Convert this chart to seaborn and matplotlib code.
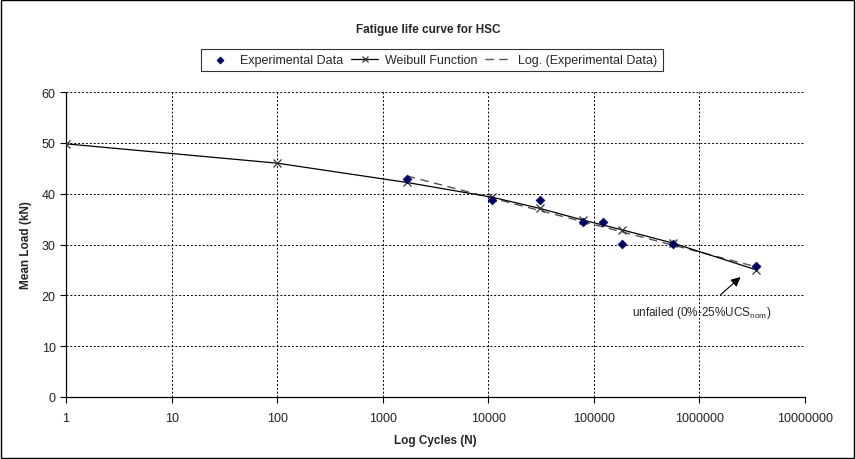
import numpy as np
import pandas as pd
import matplotlib
matplotlib.use("Agg")
import matplotlib.pyplot as plt
import seaborn as sns

# ---- data ----
exp_cycles = [1700, 10900, 30800, 79000, 122000, 184000, 556000, 3470000]
exp_load = [42.9, 38.8, 38.8, 34.4, 34.4, 30.1, 30.1, 25.7]

weib_cycles = [1, 100, 1700, 10900, 30800, 79000, 184000, 556000, 3470000]
weib_load = [49.8, 46.0, 42.2, 39.3, 37.1, 34.8, 32.9, 30.3, 25.0]

x_ticks = [1, 10, 100, 1000, 10000, 100000, 1000000, 10000000]
x_tick_labels = ["1", "10", "100", "1000", "10000", "100000", "1000000", "10000000"]
y_ticks = [0, 10, 20, 30, 40, 50, 60]

sns.set_theme(style="white")
plt.rcParams["font.family"] = ["Liberation Sans", "DejaVu Sans"]

fig = plt.figure(figsize=(8.56, 4.6), dpi=100)
ax = fig.add_axes([66/856, 1-398/460, (805-66)/856, (398-93)/460])

# log trendline (Excel-style logarithmic fit of experimental data)
a, b = np.polyfit(np.log(exp_cycles), exp_load, 1)
trend_x = np.array([min(exp_cycles), max(exp_cycles)])
trend_df = pd.DataFrame({"x": trend_x, "y": a*np.log(trend_x)+b})

exp_df = pd.DataFrame({"x": exp_cycles, "y": exp_load})
weib_df = pd.DataFrame({"x": weib_cycles, "y": weib_load})

sns.lineplot(data=trend_df, x="x", y="y", ax=ax, color="#555555", lw=1.0,
             linestyle=(0, (6, 4)), estimator=None, sort=False,
             label="Log. (Experimental Data)", zorder=2)
sns.lineplot(data=weib_df, x="x", y="y", ax=ax, color="black", lw=0.9,
             marker="x", markersize=6, markeredgecolor="#333333", markeredgewidth=0.9,
             estimator=None, sort=False, label="Weibull Function", zorder=3)
sns.scatterplot(data=exp_df, x="x", y="y", ax=ax, marker="D", s=20,
                color="#000066", edgecolor="#000066", linewidth=0.5,
                label="Experimental Data", zorder=4)

ax.set_xscale("log")
ax.set_xlim(1, 1e7)
ax.set_ylim(0, 60)
ax.set_xticks(x_ticks)
ax.set_xticklabels(x_tick_labels)
ax.set_yticks(y_ticks)
ax.xaxis.set_minor_locator(matplotlib.ticker.NullLocator())
ax.tick_params(axis="both", which="major", labelsize=9, direction="out",
               length=4, width=0.8, color="black", labelcolor="#222222",
               bottom=True, left=True)
ax.tick_params(axis="x", pad=7)
ax.grid(True, which="major", color="black", linestyle=(0, (2, 2)), linewidth=0.7)
for s in ["top", "right"]:
    ax.spines[s].set_visible(False)
for s in ["left", "bottom"]:
    ax.spines[s].set_color("black")
    ax.spines[s].set_linewidth(0.9)

ax.set_xlabel("Log Cycles (N)", fontsize=8.5, fontweight="bold", labelpad=7)
ax.set_ylabel("Mean Load (kN)", fontsize=8.5, fontweight="bold", labelpad=7)

fig.text(0.5, 1-30/460, "Fatigue life curve for HSC", ha="center", va="center",
         fontsize=8.5, fontweight="bold")

handles, labels = ax.get_legend_handles_labels()
order = [labels.index("Experimental Data"), labels.index("Weibull Function"),
         labels.index("Log. (Experimental Data)")]
leg = fig.legend([handles[i] for i in order], [labels[i] for i in order],
                 loc="center", bbox_to_anchor=(432/856, 1-61/460), ncol=3,
                 fontsize=9, frameon=True, fancybox=False, handlelength=2.2,
                 columnspacing=0.6, handletextpad=0.5, borderpad=0.4,
                 markerscale=0.8)
leg.get_frame().set_edgecolor("black")
leg.get_frame().set_linewidth(0.8)
if ax.get_legend():
    ax.get_legend().remove()

ax.annotate("unfailed (0%-25%UCS$_{\\mathregular{nom}}$)", xy=(2.45e6, 23.6),
            xytext=(1.05e6, 16.8), ha="center", va="center", fontsize=8.5,
            arrowprops=dict(arrowstyle="-|>", color="black", lw=0.8,
                            shrinkA=6, shrinkB=0, mutation_scale=14))

# figure border
fig.patches.append(matplotlib.patches.Rectangle((0.001, 0.002), 0.997, 0.996,
                   transform=fig.transFigure, fill=False, edgecolor="black", lw=1))

fig.savefig("out.png", dpi=100)
